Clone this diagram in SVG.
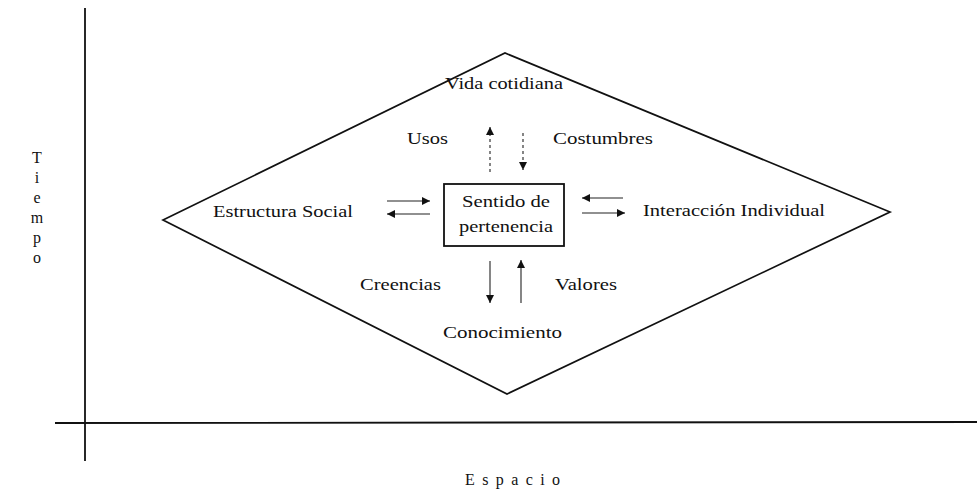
<svg xmlns="http://www.w3.org/2000/svg" width="977" height="492" viewBox="0 0 977 492">
<style>
text{font-family:"Liberation Serif","Times New Roman",serif;font-size:17px;fill:#111}
.ax{stroke:#111;stroke-width:1.8;fill:none}
.dia{stroke:#111;stroke-width:1.7;fill:none}
.ar{stroke:#222;stroke-width:1.1;fill:none}
.dot{stroke-dasharray:3 3}
.box{stroke:#111;stroke-width:1.8;fill:#fff}
.lab{font-size:16px}
</style>
<defs>
<marker id="ah" viewBox="0 0 10 10" refX="10" refY="5" markerWidth="9" markerHeight="8" markerUnits="userSpaceOnUse" orient="auto">
<path d="M0,0 L10,5 L0,10 Z" fill="#111"/>
</marker>
</defs>
<g id="axes">
<line class="ax" x1="85" y1="8" x2="85" y2="461"/>
<line class="ax" x1="55" y1="423" x2="977" y2="422"/>
</g>
<g id="tiempo">
<text class="lab" x="37" y="163" text-anchor="middle">T</text>
<text class="lab" x="37" y="183" text-anchor="middle">i</text>
<text class="lab" x="37" y="203" text-anchor="middle">e</text>
<text class="lab" x="37" y="223" text-anchor="middle">m</text>
<text class="lab" x="37" y="243" text-anchor="middle">p</text>
<text class="lab" x="37" y="263" text-anchor="middle">o</text>
</g>
<g id="espacio"><text class="lab" x="465" y="485" textLength="95" lengthAdjust="spacing">Espacio</text></g>
<g id="diamond"><polygon class="dia" points="163,220 505,53 890,212 507,394"/></g>
<g id="vida"><text x="445" y="89" textLength="118" lengthAdjust="spacingAndGlyphs">Vida cotidiana</text></g>
<g id="usos"><text x="407" y="144" textLength="41" lengthAdjust="spacingAndGlyphs">Usos</text></g>
<g id="costumbres"><text x="553" y="144" textLength="100" lengthAdjust="spacingAndGlyphs">Costumbres</text></g>
<g id="estructura"><text x="213" y="217" textLength="140" lengthAdjust="spacingAndGlyphs">Estructura Social</text></g>
<g id="interaccion"><text x="643" y="216" textLength="182" lengthAdjust="spacingAndGlyphs">Interacción Individual</text></g>
<g id="creencias"><text x="360" y="290" textLength="81" lengthAdjust="spacingAndGlyphs">Creencias</text></g>
<g id="valores"><text x="555" y="290" textLength="62" lengthAdjust="spacingAndGlyphs">Valores</text></g>
<g id="conocimiento"><text x="443" y="338" textLength="119" lengthAdjust="spacingAndGlyphs">Conocimiento</text></g>
<g id="sentido">
<rect class="box" x="444" y="184" width="120" height="62"/>
<text x="462" y="207" textLength="88" lengthAdjust="spacingAndGlyphs">Sentido de</text>
<text x="459" y="232" textLength="94" lengthAdjust="spacingAndGlyphs">pertenencia</text>
</g>
<g id="connectors">
<line class="ar dot" x1="490" y1="172" x2="490" y2="127" marker-end="url(#ah)"/>
<line class="ar dot" x1="523" y1="133" x2="523" y2="170" marker-end="url(#ah)"/>
<line class="ar" x1="387" y1="201" x2="430" y2="201" marker-end="url(#ah)"/>
<line class="ar" x1="430" y1="214" x2="387" y2="214" marker-end="url(#ah)"/>
<line class="ar" x1="623" y1="198" x2="582" y2="198" marker-end="url(#ah)"/>
<line class="ar" x1="582" y1="213" x2="625" y2="213" marker-end="url(#ah)"/>
<line class="ar" x1="490" y1="261" x2="490" y2="303" marker-end="url(#ah)"/>
<line class="ar" x1="521" y1="303" x2="521" y2="260" marker-end="url(#ah)"/>
</g>
</svg>
